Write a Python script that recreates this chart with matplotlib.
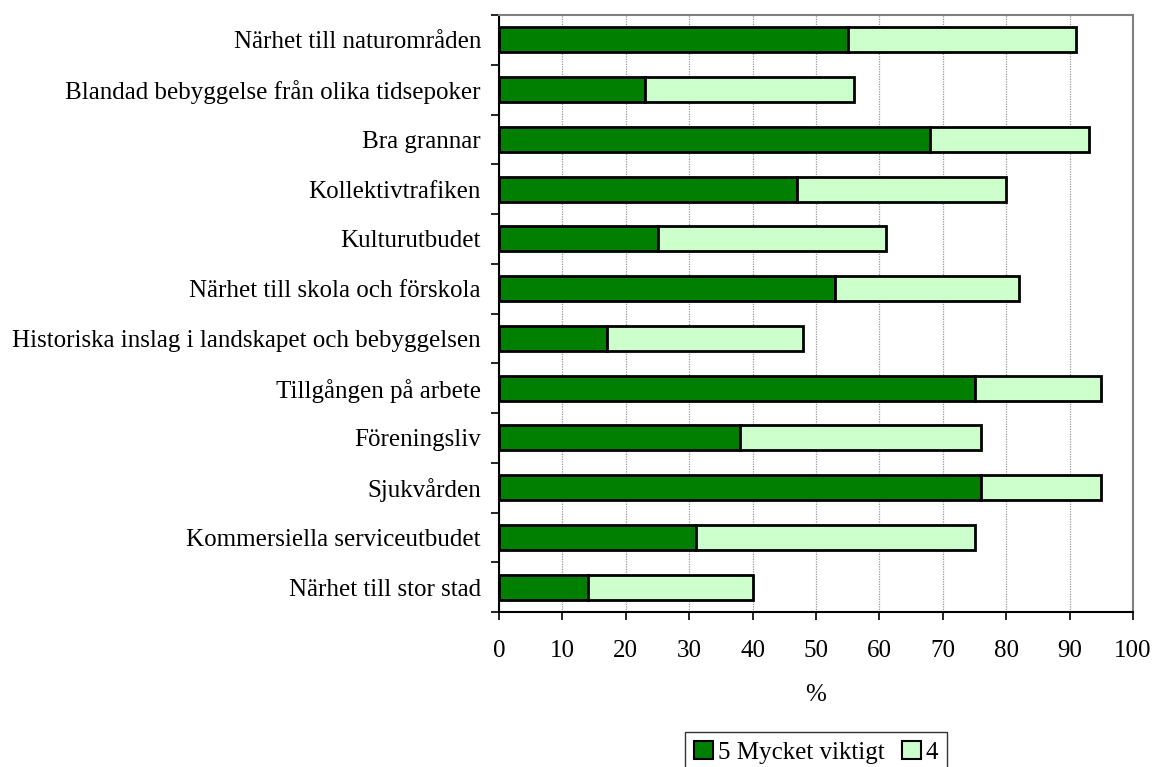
import numpy as np
import matplotlib
matplotlib.use("Agg")
import matplotlib.pyplot as plt

plt.rcParams["font.family"] = ["Liberation Serif", "DejaVu Serif"]

categories = [
    "Närhet till naturområden",
    "Blandad bebyggelse från olika tidsepoker",
    "Bra grannar",
    "Kollektivtrafiken",
    "Kulturutbudet",
    "Närhet till skola och förskola",
    "Historiska inslag i landskapet och bebyggelsen",
    "Tillgången på arbete",
    "Föreningsliv",
    "Sjukvården",
    "Kommersiella serviceutbudet",
    "Närhet till stor stad",
]
very_important = [55, 23, 68, 47, 25, 53, 17, 75, 38, 76, 31, 14]
important = [36, 33, 25, 33, 36, 29, 31, 20, 38, 19, 44, 26]
xticks = list(range(0, 101, 10))

FS = 18

fig = plt.figure(figsize=(11.53, 7.67), dpi=100)
ax = fig.add_axes([499 / 1153, 1 - 612 / 767, 634 / 1153, 597 / 767])

y = np.arange(len(categories))
ax.barh(y, very_important, height=0.5, color="#007f00", edgecolor="black",
        linewidth=2, label="5 Mycket viktigt", zorder=3)
ax.barh(y, important, left=very_important, height=0.5, color="#ccffcc",
        edgecolor="black", linewidth=2, label="4", zorder=3)

ax.set_ylim(len(categories) - 0.5, -0.5)
ax.set_yticks(np.arange(len(categories) + 1) - 0.5, minor=False)
ax.set_yticklabels([])
ax.set_yticks(y, minor=True)
ax.set_yticklabels(categories, minor=True)
ax.tick_params(axis="y", which="minor", length=0, pad=13, labelsize=FS)
ax.tick_params(axis="y", which="major", length=6, width=1.2, direction="out")

ax.set_xlim(0, 100)
ax.set_xticks(xticks)
ax.tick_params(axis="x", length=6, width=1.2, direction="out", pad=14,
               labelsize=FS)
ax.set_xlabel("%", fontsize=FS, labelpad=16)

ax.grid(axis="x", color="#999999", linestyle=(0, (1, 1)), linewidth=0.9,
        zorder=0)
for side in ["top", "right"]:
    ax.spines[side].set_color("#808080")
    ax.spines[side].set_linewidth(1.5)
for side in ["left", "bottom"]:
    ax.spines[side].set_color("black")
    ax.spines[side].set_linewidth(1.5)

leg = fig.legend(loc="upper center", bbox_to_anchor=(816 / 1153, 1 - 732 / 767),
                 ncol=2, fontsize=FS, frameon=True, fancybox=False,
                 handlelength=0.75, handleheight=0.75, handletextpad=0.2,
                 columnspacing=0.7, borderpad=0.35, borderaxespad=0)
leg.get_frame().set_edgecolor("black")
leg.get_frame().set_linewidth(1)
for h in leg.legend_handles:
    h.set_linewidth(1.5)

fig.savefig("out.png", dpi=100)
